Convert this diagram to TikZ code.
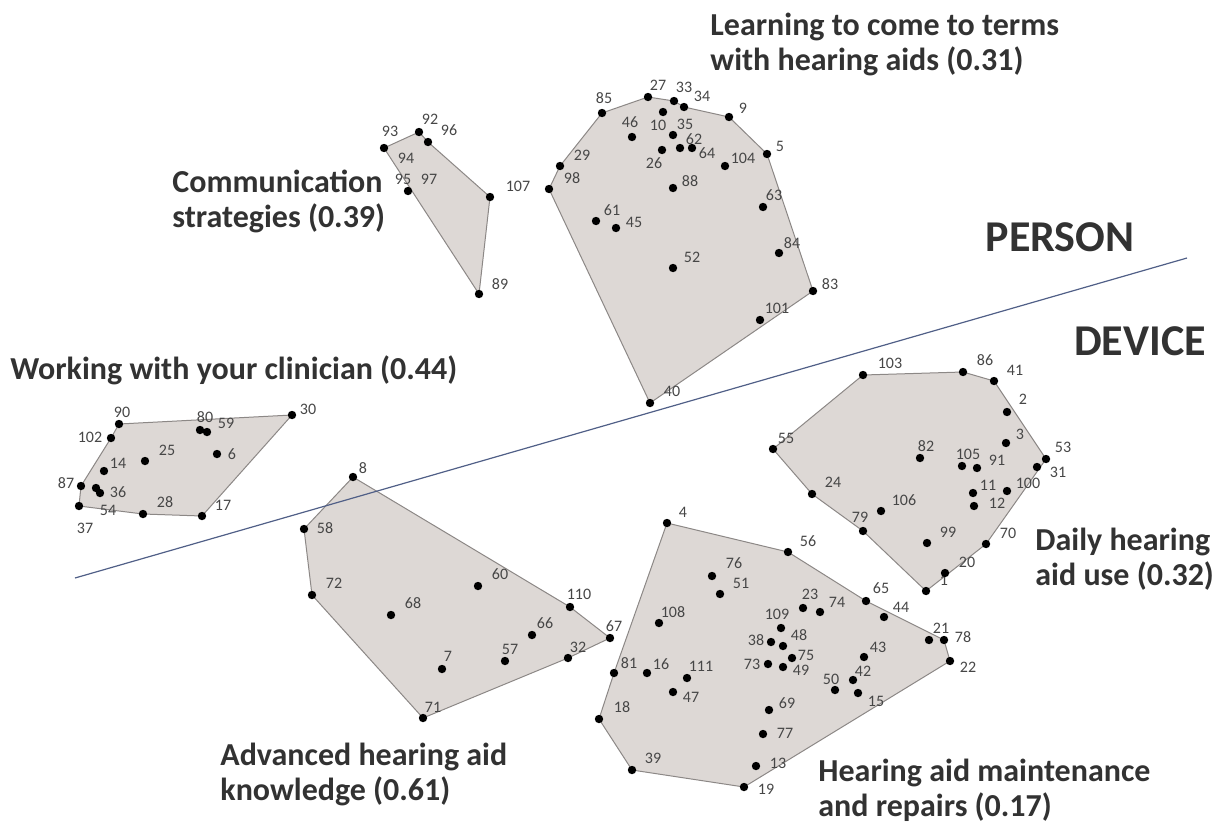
\documentclass[tikz,border=0pt]{standalone}
\usepackage{fontspec}
\setmainfont{Carlito}
\usetikzlibrary{backgrounds}
\definecolor{hullfill}{RGB}{221,216,213}
\definecolor{hullline}{RGB}{140,136,134}
\definecolor{numtext}{RGB}{70,70,70}
\definecolor{titletext}{RGB}{50,50,50}
\definecolor{divline}{RGB}{80,95,135}
\def\pt#1#2#3#4#5{\node (P#1) at (#2,#3) [dot] {}; \node at (#4,#5) [num] {#1};}

\begin{document}
\begin{tikzpicture}[x=0.5pt, y=-0.5pt,
  dot/.style={circle, fill=black, inner sep=0pt, minimum size=4.2pt},
  num/.style={font=\fontsize{8}{8}\selectfont, text=numtext, inner sep=0pt},
  hull/.style={draw=hullline, fill=hullfill, line width=0.5pt, line join=round},
  title/.style={font=\bfseries\fontsize{16}{17.5}\selectfont, text=titletext, align=left, anchor=west, inner sep=0pt},
  side/.style={font=\bfseries\fontsize{22}{22}\selectfont, text=titletext, inner sep=0pt}]
\useasboundingbox (0,0) rectangle (1230,825);

\pt{93}{384}{148}{390}{131}
\pt{92}{419}{132}{430}{119}
\pt{96}{428}{142}{449}{130}
\node at (406,158) [num] {94};
\pt{95}{408}{191}{403}{179}
\node at (429,179) [num] {97};
\pt{107}{490}{197}{518}{186}
\pt{89}{479}{294}{500}{284}

\pt{85}{602}{113}{604}{98}
\pt{27}{648}{97}{658}{85}
\pt{33}{674}{101}{684}{87}
\pt{34}{684}{107}{702}{96}
\pt{9}{729}{117}{743}{108}
\pt{10}{663}{112}{658}{125}
\pt{46}{632}{137}{630}{122}
\pt{35}{673}{135}{685}{124}
\pt{62}{680}{148}{694}{139}
\pt{64}{692}{148}{707}{153}
\pt{26}{662}{150}{654}{163}
\pt{5}{767}{154}{780}{146}
\pt{104}{725}{166}{743}{158}
\pt{29}{560}{166}{582}{155}
\pt{98}{549}{189}{572}{178}
\pt{88}{673}{188}{690}{181}
\pt{63}{763}{207}{774}{195}
\pt{61}{596}{221}{612}{210}
\pt{45}{616}{228}{634}{222}
\pt{84}{779}{253}{792}{243}
\pt{52}{673}{268}{692}{257}
\pt{83}{813}{291}{830}{284}
\pt{101}{760}{320}{777}{308}
\pt{40}{650}{403}{672}{391}

\pt{90}{119}{424}{122}{412}
\pt{102}{111}{438}{90}{437}
\pt{80}{200}{430}{205}{417}
\pt{59}{207}{432}{226}{423}
\pt{30}{292}{415}{308}{409}
\pt{25}{145}{461}{167}{450}
\pt{6}{217}{454}{232}{454}
\pt{14}{104}{471}{118}{463}
\pt{87}{81}{486}{66}{483}
\pt{36}{96}{488}{118}{492}
\node (P36b) at (100,493) [dot] {};
\pt{54}{79}{506}{108}{510}
\node at (85,528) [num] {37};
\pt{28}{143}{514}{165}{502}
\pt{17}{202}{516}{223}{505}

\pt{8}{353}{477}{363}{468}
\pt{58}{304}{529}{325}{528}
\pt{72}{312}{595}{334}{583}
\pt{68}{391}{615}{413}{603}
\pt{60}{478}{586}{500}{574}
\pt{110}{570}{607}{579}{594}
\pt{66}{532}{635}{545}{623}
\pt{67}{610}{638}{614}{626}
\pt{57}{505}{661}{510}{649}
\pt{32}{568}{658}{578}{647}
\pt{7}{442}{669}{448}{656}
\pt{71}{423}{718}{433}{707}

\pt{4}{667}{523}{683}{512}
\pt{56}{788}{552}{808}{541}
\pt{76}{712}{576}{734}{563}
\pt{51}{720}{594}{741}{583}
\pt{108}{659}{623}{673}{612}
\pt{23}{803}{608}{810}{594}
\pt{74}{820}{612}{837}{602}
\pt{65}{866}{601}{881}{588}
\pt{44}{884}{617}{901}{607}
\pt{109}{781}{628}{777}{614}
\pt{38}{771}{642}{756}{640}
\pt{48}{783}{646}{799}{635}
\pt{21}{929}{640}{941}{628}
\pt{78}{944}{640}{963}{637}
\pt{22}{950}{661}{968}{667}
\pt{43}{864}{657}{878}{647}
\pt{75}{792}{658}{806}{655}
\pt{73}{768}{664}{752}{664}
\pt{49}{783}{667}{801}{670}
\pt{42}{853}{680}{863}{671}
\pt{50}{835}{690}{831}{679}
\pt{15}{858}{693}{876}{701}
\pt{81}{614}{673}{629}{663}
\pt{16}{647}{673}{661}{664}
\pt{111}{687}{678}{701}{666}
\pt{47}{673}{692}{691}{697}
\pt{69}{769}{710}{787}{703}
\pt{18}{599}{719}{622}{707}
\pt{77}{763}{734}{785}{733}
\pt{13}{756}{766}{778}{763}
\pt{39}{632}{770}{653}{758}
\pt{19}{744}{787}{766}{789}

\pt{103}{863}{375}{890}{363}
\pt{86}{963}{372}{985}{360}
\pt{41}{994}{381}{1015}{370}
\pt{2}{1007}{412}{1023}{399}
\pt{3}{1006}{443}{1020}{434}
\pt{53}{1046}{459}{1063}{447}
\pt{31}{1037}{467}{1058}{472}
\pt{55}{773}{449}{786}{438}
\pt{82}{920}{458}{926}{446}
\pt{105}{962}{466}{968}{454}
\pt{91}{977}{468}{997}{460}
\pt{11}{973}{493}{988}{485}
\pt{100}{1007}{491}{1028}{483}
\pt{12}{974}{506}{997}{503}
\pt{24}{812}{494}{833}{482}
\pt{106}{881}{511}{904}{500}
\pt{79}{863}{531}{860}{517}
\pt{99}{927}{543}{948}{532}
\pt{70}{986}{544}{1008}{533}
\pt{1}{926}{591}{944}{580}
\pt{20}{945}{573}{967}{562}

\begin{scope}[on background layer]
\draw [hull] (P93.center) -- (P92.center) -- (P96.center) -- (P107.center) -- (P89.center) -- cycle;
\draw [hull] (P85.center) -- (P27.center) -- (P33.center) -- (P34.center) -- (P9.center) -- (P5.center) -- (P83.center) -- (P40.center) -- (P98.center) -- (P29.center) -- cycle;
\draw [hull] (P90.center) -- (P30.center) -- (P17.center) -- (P28.center) -- (P54.center) -- (P87.center) -- (P102.center) -- cycle;
\draw [hull] (P8.center) -- (P110.center) -- (P67.center) -- (P32.center) -- (P71.center) -- (P72.center) -- (P58.center) -- cycle;
\draw [hull] (P4.center) -- (P56.center) -- (P65.center) -- (P78.center) -- (P22.center) -- (P19.center) -- (P39.center) -- (P18.center) -- (P81.center) -- cycle;
\draw [hull] (P103.center) -- (P86.center) -- (P41.center) -- (P53.center) -- (P70.center) -- (P1.center) -- (P79.center) -- (P24.center) -- (P55.center) -- cycle;
\end{scope}

\coordinate (SEPL) at (75,578);
\coordinate (SEPR) at (1187,258);
\draw [divline, line width=0.6pt] (SEPL) -- (SEPR);

\node (LEARN) at (710,44.5) [title] {Learning to come to terms\\with hearing aids (0.31)};
\node (COMM) at (172,201) [title] {Communication\\strategies (0.39)};
\node (WORK) at (10,370) [title] {Working with your clinician (0.44)};
\node (DAILY) at (1035,559) [title] {Daily hearing\\aid use (0.32)};
\node (ADV) at (220,774) [title] {Advanced hearing aid\\knowledge (0.61)};
\node (MAINT) at (818,790) [title] {Hearing aid maintenance\\and repairs (0.17)};
\node (PERSON) at (1060,237) [side] {PERSON};
\node (DEVICE) at (1140,341) [side] {DEVICE};
\end{tikzpicture}
\end{document}
